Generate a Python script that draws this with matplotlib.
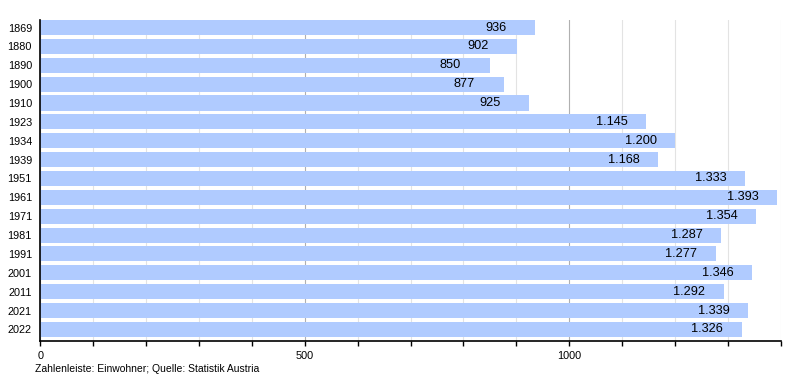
import matplotlib.pyplot as plt
import numpy as np

plt.rcParams['font.family'] = ['Liberation Sans', 'DejaVu Sans']

years = ["1869", "1880", "1890", "1900", "1910", "1923", "1934", "1939", "1951",
         "1961", "1971", "1981", "1991", "2001", "2011", "2021", "2022"]
population = [936, 902, 850, 877, 925, 1145, 1200, 1168, 1333,
              1393, 1354, 1287, 1277, 1346, 1292, 1339, 1326]

bar_color = "#b0cbff"

fig = plt.figure(figsize=(8, 3.8), dpi=100)
ax = fig.add_axes([40.3 / 800, 1 - 340.7 / 380, 740.4 / 800, 320.7 / 380])

ypos = np.arange(len(years))
ax.barh(ypos, population, height=0.8, color=bar_color, zorder=2)

# value labels inside the bar end, German thousands separator
for y, v in zip(ypos, population):
    label = f"{v:,}".replace(",", ".")
    ax.text(v - 95, y, label, ha="left", va="center", fontsize=9.2, color="black", zorder=3)

ax.set_ylim(len(years) - 1 + 0.6, -0.4)
ax.set_xlim(0, 1400)
ax.set_yticks(ypos)
ax.set_yticklabels(years, fontsize=7.8)
ax.tick_params(axis="y", length=0, pad=6)

ax.set_xticks([0, 500, 1000])
ax.set_xticks(np.arange(0, 1401, 100), minor=True)
ax.tick_params(axis="x", which="both", length=3.5, width=1, pad=4, labelsize=7.8, color="black")

ax.grid(axis="x", which="minor", color="#e3e3e3", linewidth=0.8, zorder=0)
ax.grid(axis="x", which="major", color="#b0b0b0", linewidth=0.8, zorder=0)
ax.set_axisbelow(True)

for side in ["top", "right"]:
    ax.spines[side].set_visible(False)
ax.spines["left"].set_linewidth(1.2)
ax.spines["bottom"].set_linewidth(1.2)

fig.text(35 / 800, 1 - 372 / 380, "Zahlenleiste: Einwohner; Quelle: Statistik Austria",
         fontsize=7.5, va="baseline", ha="left")

fig.savefig("out.png", dpi=100)
